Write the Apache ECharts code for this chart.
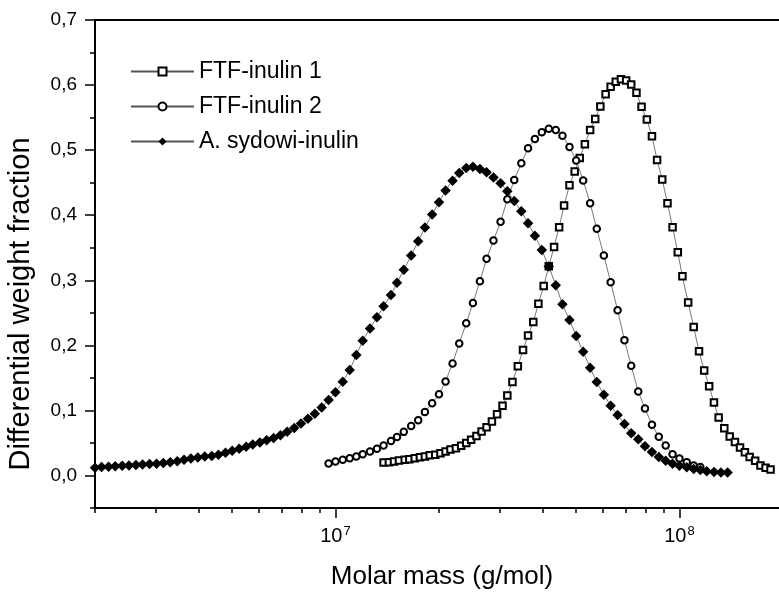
<!DOCTYPE html>
<html>
<head>
<meta charset="utf-8">
<script src="https://cdn.jsdelivr.net/npm/echarts@6/dist/echarts.min.js"></script>
<style>
html,body{margin:0;padding:0;background:#fff;}
#chart{width:779px;height:593px;}
</style>
</head>
<body>
<div id="chart"></div>
<script>
// ---- data (molar mass in g/mol, differential weight fraction) ----
const seriesNames = ['FTF-inulin 1', 'FTF-inulin 2', 'A. sydowi-inulin'];

const massFTF1 = [1.38e7,1.43e7,1.48e7,1.53e7,1.59e7,1.64e7,1.70e7,1.76e7,1.82e7,1.88e7,
  1.95e7,2.02e7,2.09e7,2.16e7,2.24e7,2.32e7,2.40e7,2.48e7,2.57e7,2.66e7,
  2.75e7,2.85e7,2.95e7,3.06e7,3.16e7,3.27e7,3.39e7,3.51e7,3.63e7,3.76e7,
  3.89e7,4.03e7,4.17e7,4.32e7,4.47e7,4.62e7,4.79e7,4.96e7,5.13e7,5.31e7,
  5.50e7,5.69e7,5.89e7,6.10e7,6.31e7,6.53e7,6.76e7,7.00e7,7.24e7,7.50e7,
  7.76e7,8.04e7,8.32e7,8.61e7,8.91e7,9.23e7,9.55e7,9.89e7,1.02e8,1.06e8,
  1.10e8,1.14e8,1.18e8,1.22e8,1.26e8,1.30e8,1.35e8,1.40e8,1.45e8,1.50e8,
  1.55e8,1.60e8,1.66e8,1.72e8,1.78e8,1.84e8];
const wFTF1 = [0.020,0.0205,0.0215,0.023,0.024,0.025,0.0265,0.028,0.029,0.031,
  0.032,0.034,0.037,0.040,0.042,0.0455,0.050,0.055,0.0605,0.0675,
  0.074,0.083,0.094,0.107,0.123,0.1435,0.168,0.193,0.215,0.236,
  0.264,0.291,0.3215,0.351,0.3815,0.415,0.446,0.467,0.488,0.509,
  0.531,0.548,0.567,0.586,0.5975,0.605,0.609,0.607,0.601,0.588,
  0.5665,0.547,0.5215,0.485,0.455,0.4185,0.3815,0.343,0.306,0.266,
  0.228,0.191,0.1615,0.137,0.112,0.089,0.0725,0.060,0.0515,0.043,
  0.0355,0.0285,0.0225,0.0155,0.012,0.009];

const massFTF2 = [9.55e6,1.00e7,1.05e7,1.10e7,1.15e7,1.20e7,1.26e7,1.32e7,1.38e7,1.45e7,
  1.51e7,1.58e7,1.66e7,1.74e7,1.82e7,1.91e7,2.00e7,2.09e7,2.19e7,2.29e7,
  2.40e7,2.51e7,2.63e7,2.75e7,2.88e7,3.02e7,3.16e7,3.31e7,3.47e7,3.63e7,
  3.80e7,3.98e7,4.17e7,4.37e7,4.57e7,4.79e7,5.01e7,5.25e7,5.50e7,5.75e7,
  6.03e7,6.31e7,6.61e7,6.92e7,7.24e7,7.59e7,7.94e7,8.32e7,8.71e7,9.12e7,
  9.55e7,1.00e8,1.05e8,1.10e8,1.15e8];
const wFTF2 = [0.0185,0.0215,0.024,0.0265,0.029,0.0325,0.037,0.041,0.046,0.053,
  0.059,0.067,0.076,0.085,0.0975,0.111,0.125,0.1445,0.172,0.203,
  0.234,0.265,0.2985,0.333,0.361,0.390,0.4245,0.454,0.480,0.503,
  0.517,0.5275,0.533,0.531,0.522,0.505,0.484,0.4535,0.4185,0.379,
  0.338,0.297,0.254,0.208,0.1685,0.129,0.103,0.078,0.0595,0.046,
  0.0325,0.026,0.0205,0.0152,0.013];

const massAsyd = [2.00e6,2.09e6,2.19e6,2.29e6,2.40e6,2.51e6,2.63e6,2.75e6,2.88e6,3.02e6,
  3.16e6,3.31e6,3.47e6,3.63e6,3.80e6,3.98e6,4.17e6,4.37e6,4.57e6,4.79e6,
  5.01e6,5.25e6,5.50e6,5.75e6,6.03e6,6.31e6,6.61e6,6.92e6,7.24e6,7.59e6,
  7.94e6,8.32e6,8.71e6,9.12e6,9.55e6,1.00e7,1.05e7,1.10e7,1.15e7,1.20e7,
  1.26e7,1.32e7,1.38e7,1.45e7,1.51e7,1.58e7,1.66e7,1.74e7,1.82e7,1.91e7,
  2.00e7,2.09e7,2.19e7,2.29e7,2.40e7,2.51e7,2.63e7,2.75e7,2.88e7,3.02e7,
  3.16e7,3.31e7,3.47e7,3.63e7,3.80e7,3.98e7,4.17e7,4.37e7,4.57e7,4.79e7,
  5.01e7,5.25e7,5.50e7,5.75e7,6.03e7,6.31e7,6.61e7,6.92e7,7.24e7,7.59e7,
  7.94e7,8.32e7,8.71e7,9.12e7,9.55e7,1.00e8,1.05e8,1.10e8,1.15e8,1.20e8,
  1.26e8,1.32e8,1.38e8];
const wAsyd = [0.012,0.013,0.0135,0.014,0.015,0.0155,0.016,0.017,0.0175,0.018,
  0.019,0.0205,0.022,0.024,0.026,0.0275,0.029,0.030,0.032,0.035,
  0.038,0.041,0.044,0.0475,0.0505,0.054,0.0575,0.062,0.067,0.073,
  0.080,0.087,0.095,0.1045,0.116,0.128,0.144,0.162,0.185,0.207,
  0.226,0.243,0.260,0.2775,0.296,0.316,0.338,0.360,0.381,0.401,
  0.420,0.438,0.453,0.465,0.4725,0.4745,0.471,0.466,0.458,0.449,
  0.437,0.422,0.406,0.3875,0.3685,0.3465,0.321,0.2925,0.263,0.239,
  0.2145,0.190,0.1655,0.1435,0.124,0.107,0.093,0.079,0.065,0.0555,
  0.045,0.036,0.0285,0.0225,0.018,0.015,0.0125,0.010,0.0083,0.0063,
  0.0052,0.0046,0.0046];

// axis ticks
const xMin = 2e6, xMax = 2e8;
const xMajorTicks = [1e7, 1e8];
const xMajorExponents = [7, 8];
const xMinorTicks = [2e6,3e6,4e6,5e6,6e6,7e6,8e6,9e6,2e7,3e7,4e7,5e7,6e7,7e7,8e7,9e7,2e8];
const yMin = -0.05, yMax = 0.7;
const yMajorTicks = [0, 0.1, 0.2, 0.3, 0.4, 0.5, 0.6, 0.7];
const yMinorTicks = [-0.05, 0.05, 0.15, 0.25, 0.35, 0.45, 0.55, 0.65];
const xTitle = 'Molar mass (g/mol)';
const yTitle = 'Differential weight fraction';

// ---- chart ----
const FONT = '"Liberation Sans", Arial, Helvetica, sans-serif';
const chart = echarts.init(document.getElementById('chart'), null, {renderer: 'canvas'});

function pairs(xs, ys) { return xs.map((x, i) => [x, ys[i]]); }

const lineCommon = {
  type: 'line',
  xAxisIndex: 0,
  yAxisIndex: 0,
  showAllSymbol: true,
  smooth: false,
  lineStyle: {color: '#555', width: 0.8},
  emphasis: {disabled: true},
  clip: true
};

const option = {
  animation: false,
  backgroundColor: '#fff',
  textStyle: {fontFamily: FONT, color: '#000'},
  grid: {left: 95, right: -4, top: 20, bottom: 85, containLabel: false, outerBoundsMode: 'none'},
  legend: {
    data: seriesNames,
    orient: 'vertical',
    left: 125,
    top: 55,
    itemWidth: 63,
    itemHeight: 10,
    itemGap: 12,
    textStyle: {fontFamily: FONT, fontSize: 23, color: '#000'},
    inactiveColor: '#000'
  },
  xAxis: [
    {
      type: 'log', logBase: 10, min: xMin, max: xMax, position: 'bottom',
      name: xTitle, nameLocation: 'middle', nameGap: 56,
      nameTextStyle: {fontFamily: FONT, fontSize: 26, color: '#000', padding: [0, 0, 0, 6]},
      axisLine: {show: true, onZero: false, lineStyle: {color: '#000', width: 2}},
      axisTick: {show: true, customValues: xMajorTicks, length: 10, lineStyle: {color: '#000', width: 1.5}},
      axisLabel: {show: false},
      splitLine: {show: false}, minorTick: {show: false}
    },
    {
      type: 'log', logBase: 10, min: xMin, max: xMax, position: 'bottom',
      axisLine: {show: false, onZero: false},
      axisTick: {show: true, customValues: xMinorTicks, length: 5, lineStyle: {color: '#000', width: 1.5}},
      axisLabel: {show: false},
      splitLine: {show: false}
    },
    {
      type: 'log', logBase: 10, min: xMin, max: xMax, position: 'top',
      axisLine: {show: true, onZero: false, lineStyle: {color: '#000', width: 2}},
      axisTick: {show: false}, axisLabel: {show: false}, splitLine: {show: false}
    },
    {
      // decade-label axis (exponent scale, same span as the log axis)
      type: 'value', min: Math.log10(xMin), max: Math.log10(xMax), position: 'bottom',
      axisLine: {show: false, onZero: false},
      axisTick: {show: false},
      splitLine: {show: false},
      axisLabel: {
        show: true, customValues: xMajorExponents, margin: 17, color: '#000',
        fontFamily: FONT, fontSize: 20,
        formatter: function (e) { return '{b|10}{s|' + Math.round(e) + '}'; },
        rich: {
          b: {fontFamily: FONT, fontSize: 20, color: '#000'},
          s: {fontFamily: FONT, fontSize: 13, color: '#000', padding: [0, 0, 10, 1]}
        }
      }
    }
  ],
  yAxis: [
    {
      type: 'value', min: yMin, max: yMax, position: 'left',
      name: yTitle, nameLocation: 'middle', nameGap: 60, nameRotate: 90,
      nameTextStyle: {fontFamily: FONT, fontSize: 29, color: '#000', padding: [0, 80, 0, 0]},
      axisLine: {show: true, onZero: false, lineStyle: {color: '#000', width: 2}},
      axisTick: {show: true, customValues: yMajorTicks, length: 10, lineStyle: {color: '#000', width: 1.5}},
      axisLabel: {
        show: true, customValues: yMajorTicks, margin: 18, color: '#000',
        fontFamily: FONT, fontSize: 19,
        formatter: function (v) { return v.toFixed(1).replace('.', ','); }
      },
      splitLine: {show: false}
    },
    {
      type: 'value', min: yMin, max: yMax, position: 'left',
      axisLine: {show: false, onZero: false},
      axisTick: {show: true, customValues: yMinorTicks, length: 5, lineStyle: {color: '#000', width: 1.5}},
      axisLabel: {show: false},
      splitLine: {show: false}
    }
  ],
  series: [
    Object.assign({}, lineCommon, {
      name: seriesNames[0],
      data: pairs(massFTF1, wFTF1),
      symbol: 'emptyRect', symbolSize: 6.5,
      itemStyle: {color: '#000', borderColor: '#222', borderWidth: 1},
      z: 3
    }),
    Object.assign({}, lineCommon, {
      name: seriesNames[1],
      data: pairs(massFTF2, wFTF2),
      symbol: 'emptyCircle', symbolSize: 6.5,
      itemStyle: {color: '#000', borderColor: '#222', borderWidth: 1},
      z: 4
    }),
    Object.assign({}, lineCommon, {
      name: seriesNames[2],
      data: pairs(massAsyd, wAsyd),
      symbol: 'diamond', symbolSize: 10.5,
      itemStyle: {color: '#000', borderColor: '#000', borderWidth: 0},
      z: 5
    })
  ]
};

chart.setOption(option);
</script>
</body>
</html>
